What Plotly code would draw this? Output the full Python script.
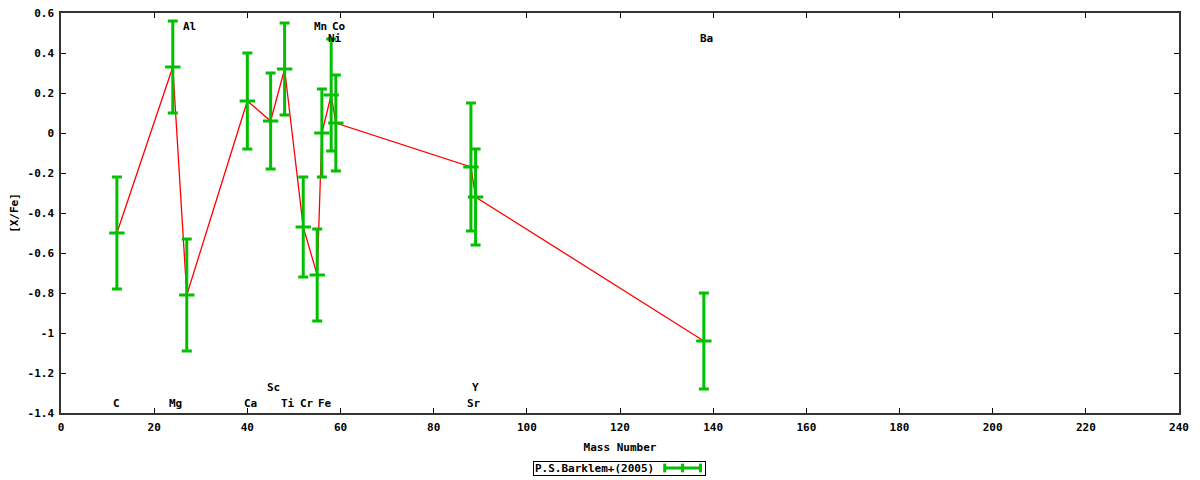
import plotly.graph_objects as go

# Data: Mass number, [X/Fe], error
elements = ["C", "Mg", "Al", "Ca", "Sc", "Ti", "Cr", "Mn", "Fe", "Ni", "Co", "Sr", "Y", "Ba"]
mass = [12, 24, 27, 40, 45, 48, 52, 55, 56, 58, 59, 88, 89, 138]
xfe = [-0.50, 0.33, -0.81, 0.16, 0.06, 0.32, -0.47, -0.71, 0.00, 0.19, 0.05, -0.17, -0.32, -1.04]
err = [0.28, 0.23, 0.28, 0.24, 0.24, 0.23, 0.25, 0.23, 0.22, 0.28, 0.24, 0.32, 0.24, 0.24]

# Element label placements (y value of the label)
label_y = [-1.35, -1.35, 0.535, -1.35, -1.27, -1.35, -1.35, 0.535, -1.35, 0.475, 0.535, -1.35, -1.27, 0.475]

x_ticks = list(range(0, 241, 20))
y_ticks = [0.6, 0.4, 0.2, 0, -0.2, -0.4, -0.6, -0.8, -1, -1.2, -1.4]
y_ticktext = ["0.6", "0.4", "0.2", "0", "-0.2", "-0.4", "-0.6", "-0.8", "-1", "-1.2", "-1.4"]

legend_name = "P.S.Barklem+(2005)"

GREEN = "#00c000"
RED = "#ff0000"
FONT = dict(family="DejaVu Sans Mono", size=11, color="black", weight="bold")

fig = go.Figure()

fig.add_trace(go.Scatter(
    x=mass, y=xfe, mode="lines",
    line=dict(color=RED, width=1.3),
    showlegend=False, hoverinfo="skip",
))

fig.add_trace(go.Scatter(
    x=mass, y=xfe, mode="markers", name=legend_name,
    marker=dict(symbol="line-ew", size=11, line=dict(color=GREEN, width=3), color=GREEN),
    error_y=dict(type="data", array=err, visible=True, color=GREEN, thickness=3, width=5),
    showlegend=False,
))

for el, m, ly in zip(elements, mass, label_y):
    fig.add_annotation(x=m - 1.2, y=ly, text=el, showarrow=False,
                       xanchor="left", yanchor="middle", font=FONT)

# Legend box (gnuplot-style: text then symbol)
fig.add_annotation(xref="paper", yref="paper", x=0.4222, y=-0.1375,
                   text=legend_name, showarrow=False, width=169, height=11,
                   align="left", valign="middle",
                   xanchor="left", yanchor="middle", font=FONT,
                   bordercolor="black", borderwidth=1, borderpad=1, bgcolor="rgba(0,0,0,0)")
lx0, lx1, lxm, ly = 0.5400, 0.5720, 0.5560, -0.1375
fig.add_shape(type="line", xref="paper", yref="paper", x0=lx0, x1=lx1, y0=ly, y1=ly,
              line=dict(color=GREEN, width=3))
for xx in (lx0, lxm, lx1):
    fig.add_shape(type="line", xref="paper", yref="paper", x0=xx, x1=xx, y0=ly - 0.011, y1=ly + 0.011,
                  line=dict(color=GREEN, width=3))

# The page body adds an 8px offset; size the figure to fill the window exactly.
fig.update_layout(
    width=1192, height=472,
    margin=dict(l=53, r=21, t=5, b=67, autoexpand=False),
    plot_bgcolor="white", paper_bgcolor="white",
    font=FONT,
    showlegend=False,
)
fig.update_xaxes(range=[0, 240], tickvals=x_ticks, ticktext=[str(v) for v in x_ticks],
                 showgrid=False, zeroline=False, showline=True, linecolor="#333333", linewidth=1.5,
                 mirror="ticks", ticks="inside", ticklen=5, tickcolor="black", automargin=False,
                 ticklabeloverflow="allow", ticklabelstandoff=3,
                 title=dict(text="Mass Number", font=FONT, standoff=10), tickfont=FONT)
fig.update_yaxes(range=[-1.4, 0.6], tickvals=y_ticks, ticktext=y_ticktext,
                 showgrid=False, zeroline=False, showline=True, linecolor="#333333", linewidth=1.5,
                 mirror="ticks", ticks="inside", ticklen=5, tickcolor="black", automargin=False,
                 ticklabeloverflow="allow", ticklabelstandoff=3,
                 title=dict(text="[X/Fe]", font=FONT, standoff=10), tickfont=FONT)

fig.write_html("out.html")
